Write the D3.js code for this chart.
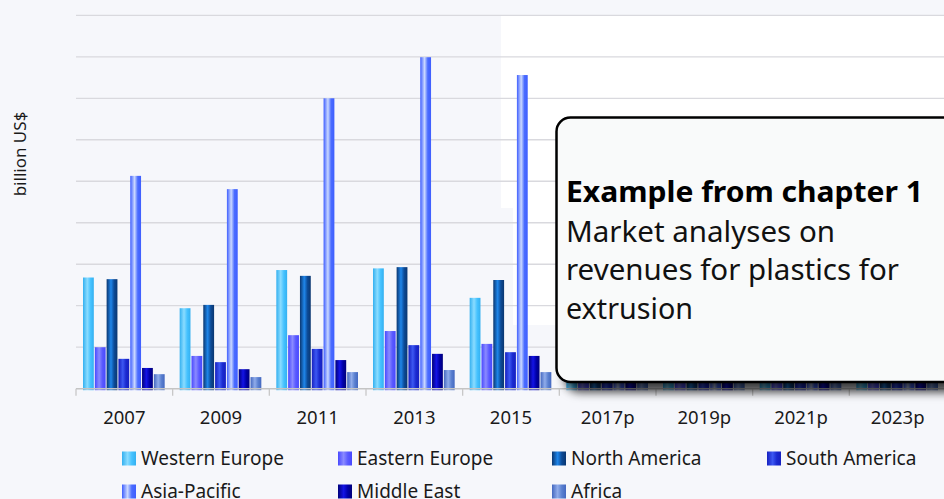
<!DOCTYPE html>
<html>
<head>
<meta charset="utf-8">
<script src="https://cdn.jsdelivr.net/npm/d3@7"></script>
<style>
  html, body { margin: 0; padding: 0; background: #f6f7fb; }
  svg { display: block; font-family: 'Noto Sans', 'Open Sans', sans-serif; }
</style>
</head>
<body>
<div id="chart"></div>
<script>
const years = ['2007', '2009', '2011', '2013', '2015', '2017p', '2019p', '2021p', '2023p']
const regions = ['Western Europe', 'Eastern Europe', 'North America', 'South America', 'Asia-Pacific', 'Middle East', 'Africa']

// one array per region (gridline step = 1)
const westernEurope = [2.68, 1.94, 2.86, 2.90, 2.19, 2.35, 2.45, 2.55, 2.65]
const easternEurope = [1.00, 0.79, 1.29, 1.39, 1.08, 1.15, 1.22, 1.30, 1.38]
const northAmerica = [2.64, 2.02, 2.72, 2.93, 2.62, 2.70, 2.80, 2.90, 3.00]
const southAmerica = [0.72, 0.64, 0.96, 1.05, 0.88, 0.92, 0.98, 1.04, 1.10]
const asiaPacific = [5.13, 4.81, 7.00, 7.99, 7.56, 5.90, 6.05, 6.20, 6.30]
const middleEast = [0.50, 0.47, 0.69, 0.84, 0.79, 0.82, 0.86, 0.90, 0.95]
const africa = [0.35, 0.28, 0.40, 0.45, 0.40, 0.42, 0.45, 0.48, 0.52]
const yTicks = [0, 1, 2, 3, 4, 5, 6, 7, 8, 9]

const seriesValues = [westernEurope, easternEurope, northAmerica, southAmerica, asiaPacific, middleEast, africa]

// gradient stops [edge, highlight, edge] per region
const colors = [
  ['#33b0f0', '#8adcff', '#45c2ff'],
  ['#4848ff', '#8a8aff', '#5a5aff'],
  ['#0a3670', '#1f86ea', '#0c4a96'],
  ['#1620c0', '#3c58f2', '#1a2ad0'],
  ['#3e5eff', '#cad8ff', '#4a6cff'],
  ['#00007a', '#1414e6', '#0000a8'],
  ['#4468c0', '#90acea', '#5a80d0']
]

const W = 944
const H = 499
const margin = { top: 15.3, left: 76, bottom: 110.3 }
const plotRight = 946

const svg = d3.select('#chart')
  .append('svg')
  .attr('width', W)
  .attr('height', H)

const defs = svg.append('defs')
colors.forEach((c, i) => {
  const g = defs.append('linearGradient')
    .attr('id', 'grad' + i)
    .attr('x1', 0).attr('x2', 1).attr('y1', 0).attr('y2', 0)
  g.append('stop').attr('offset', '0%').attr('stop-color', c[0])
  g.append('stop').attr('offset', '40%').attr('stop-color', c[1])
  g.append('stop').attr('offset', '70%').attr('stop-color', c[2])
  g.append('stop').attr('offset', '100%').attr('stop-color', c[0])
})

const shadow = defs.append('filter')
  .attr('id', 'shadow')
  .attr('x', '-10%').attr('y', '-10%')
  .attr('width', '130%').attr('height', '140%')
shadow.append('feDropShadow')
  .attr('dx', 9).attr('dy', 9)
  .attr('stdDeviation', 5)
  .attr('flood-color', '#000')
  .attr('flood-opacity', 0.75)

svg.append('rect')
  .attr('width', W).attr('height', H)
  .attr('fill', '#f6f7fb')

// pale white patch behind the right part of the plot
svg.append('rect')
  .attr('x', 501).attr('y', 15).attr('width', 460).attr('height', 193)
  .attr('fill', '#ffffff')
svg.append('rect')
  .attr('x', 513).attr('y', 208).attr('width', 460).attr('height', 117)
  .attr('fill', '#ffffff')

const x0 = d3.scaleBand()
  .domain(years)
  .range([margin.left, plotRight])

const x1 = d3.scaleBand()
  .domain(regions)
  .range([7, x0.bandwidth() - 7])

const y = d3.scaleLinear()
  .domain([0, 9])
  .range([H - margin.bottom, margin.top])

// gridlines
svg.append('g')
  .selectAll('line')
  .data(yTicks.slice(1))
  .join('line')
  .attr('x1', margin.left)
  .attr('x2', W)
  .attr('y1', d => y(d))
  .attr('y2', d => y(d))
  .attr('stroke', '#d9d9de')
  .attr('stroke-width', 1.3)

// bars
const groups = svg.append('g')
  .selectAll('g')
  .data(years)
  .join('g')
  .attr('transform', d => 'translate(' + x0(d) + ',0)')

groups.selectAll('rect')
  .data((d, i) => regions.map((r, j) => ({ region: r, idx: j, value: seriesValues[j][i] })))
  .join('rect')
  .attr('x', d => x1(d.region))
  .attr('width', x1.bandwidth() - 1)
  .attr('y', d => y(d.value))
  .attr('height', d => y(0) - y(d.value) + 1.5)
  .attr('fill', d => 'url(#grad' + d.idx + ')')

// x axis
const xAxis = d3.axisBottom(x0).tickSize(0).tickPadding(22)
const axisG = svg.append('g')
  .attr('transform', 'translate(0,' + y(0) + ')')
  .call(xAxis)
axisG.select('.domain').remove()
axisG.selectAll('text')
  .attr('font-size', 18.5)
  .attr('font-family', "'Noto Sans', sans-serif")
  .attr('fill', '#1a1a1a')

svg.append('line')
  .attr('x1', margin.left).attr('x2', W)
  .attr('y1', y(0)).attr('y2', y(0))
  .attr('stroke', '#c4c4c4')
  .attr('stroke-width', 1.5)

svg.append('g')
  .selectAll('line')
  .data(years)
  .join('line')
  .attr('x1', d => x0(d))
  .attr('x2', d => x0(d))
  .attr('y1', y(0))
  .attr('y2', y(0) + 7)
  .attr('stroke', '#c8c8c8')
  .attr('stroke-width', 1.3)

// y title
svg.append('text')
  .attr('transform', 'translate(26,154) rotate(-90)')
  .attr('text-anchor', 'middle')
  .attr('font-size', 17)
  .attr('fill', '#1a1a1a')
  .text('billion US$')

// legend
const legendX = [122, 338, 552, 767]
const legend = svg.append('g')
  .selectAll('g')
  .data(regions)
  .join('g')
  .attr('transform', (d, i) => 'translate(' + legendX[i % 4] + ',' + (458.5 + Math.floor(i / 4) * 33) + ')')

legend.append('rect')
  .attr('x', 0).attr('y', -7)
  .attr('width', 14).attr('height', 14)
  .attr('fill', (d, i) => 'url(#grad' + i + ')')

legend.append('text')
  .attr('x', 19)
  .attr('dy', '0.35em')
  .attr('font-size', 19)
  .attr('fill', '#1a1a1a')
  .text(d => d)

// callout box
svg.append('rect')
  .attr('x', 556.5).attr('y', 117.5)
  .attr('width', 430).attr('height', 264.5)
  .attr('rx', 14)
  .attr('fill', '#f9fafa')
  .attr('stroke', '#000')
  .attr('stroke-width', 2.5)
  .attr('filter', 'url(#shadow)')

const lines = ['Market analyses on', 'revenues for plastics for', 'extrusion']
const lineWidths = [269, 333, 127]
svg.append('text')
  .attr('x', 566).attr('y', 202)
  .attr('font-size', 28.5)
  .attr('font-weight', 'bold')
  .attr('fill', '#000')
  .attr('textLength', 357)
  .attr('lengthAdjust', 'spacingAndGlyphs')
  .text('Example from chapter 1')

svg.append('g')
  .selectAll('text')
  .data(lines)
  .join('text')
  .attr('x', 566)
  .attr('y', (d, i) => 241.5 + i * 38.5)
  .attr('font-size', 28.5)
  .attr('fill', '#111')
  .attr('textLength', (d, i) => lineWidths[i])
  .attr('lengthAdjust', 'spacingAndGlyphs')
  .text(d => d)
</script>
</body>
</html>
